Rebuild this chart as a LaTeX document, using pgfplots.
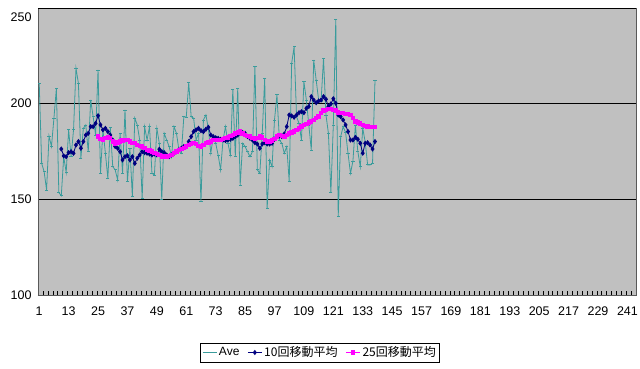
\documentclass[border=0pt]{standalone}
\usepackage{pgfplots}
\pgfplotsset{compat=1.18}
\usepackage{fontspec}
\setmainfont{Liberation Sans}
\newfontfamily\cjk{Noto Sans CJK JP}
\definecolor{avec}{HTML}{3A9C9C}
\definecolor{ma10}{HTML}{000080}
\definecolor{ma25}{HTML}{FF00FF}
\definecolor{plotbg}{HTML}{C0C0C0}
\begin{document}
\begin{tikzpicture}[x=1pt,y=1pt]
\useasboundingbox (0,0) rectangle (640,369);
\begin{axis}[at={(38pt,74pt)}, anchor=south west, scale only axis,
  width=598pt, height=287pt,
  xmin=0.5, xmax=244.5, ymin=100, ymax=250,
  axis background/.style={fill=plotbg},
  axis line style={draw=gray!70!black},
  ytick={100,150,200}, ymajorgrids,
  extra y ticks={250},
  extra y tick style={yticklabel style={anchor=north east, yshift=-1pt}},
  major grid style={black, line width=0.6pt},
  xtick={1,13,...,241},
  minor xtick={0.5,2.5,...,244.5},
  major tick length=0pt, minor tick length=4pt,
  tick align=inside, xtick pos=bottom, ytick pos=left,
  minor tick style={black, line width=0.4pt},
  /pgf/number format/assume math mode=true,
  ticklabel style={font=\fontsize{12.5}{14}\selectfont},
  xticklabel style={yshift=-8pt},
  yticklabel style={xshift=-3pt},
  legend style={at={(0.4716,-0.2003)}, anchor=center, draw=black, fill=white,
    legend columns=3, font=\fontsize{12}{14}\selectfont, inner sep=1.5pt,
    /tikz/every even column/.append style={column sep=6pt}},
  legend image code/.code={\draw[#1] (0pt,0pt) -- (14pt,0pt); \draw[#1, only marks] plot coordinates {(7pt,0pt)};},
]
\addplot[color=avec, line width=0.8pt, mark=-, mark size=1.6pt] coordinates {
(1,210.6)(2,168.8)(3,164.5)(4,154.9)(5,183.1)(6,177.6)(7,192.4)(8,208.0)(9,153.5)(10,151.9)
(11,172.3)(12,164.0)(13,186.3)(14,172.3)(15,186.3)(16,218.5)(17,210.6)(18,171.5)(19,187.1)(20,188.9)
(21,174.9)(22,201.9)(23,193.2)(24,183.6)(25,217.6)(26,163.6)(27,186.3)(28,174.1)(29,161.0)(30,187.5)
(31,167.1)(32,165.4)(33,160.1)(34,184.5)(35,163.6)(36,196.7)(37,159.3)(38,176.7)(39,151.4)(40,192.4)
(41,188.9)(42,181.0)(43,150.5)(44,188.0)(45,181.0)(46,188.0)(47,163.6)(48,162.7)(49,187.1)(50,179.3)
(51,150.0)(52,184.5)(53,181.0)(54,177.6)(55,172.3)(56,188.0)(57,184.5)(58,175.8)(59,174.1)(60,193.2)
(61,192.9)(62,211.0)(63,193.2)(64,192.4)(65,181.0)(66,184.5)(67,148.8)(68,191.5)(69,194.1)(70,187.1)
(71,174.1)(72,182.8)(73,179.3)(74,173.2)(75,165.4)(76,181.0)(77,188.0)(78,179.3)(79,173.2)(80,207.5)
(81,172.3)(82,208.0)(83,157.5)(84,179.3)(85,177.6)(86,174.9)(87,172.3)(88,174.9)(89,219.4)(90,165.4)
(91,163.6)(92,184.5)(93,213.3)(94,145.3)(95,170.6)(96,167.1)(97,191.5)(98,204.6)(99,181.0)(100,179.3)
(101,174.1)(102,177.6)(103,159.3)(104,221.1)(105,229.8)(106,193.2)(107,189.7)(108,181.0)(109,211.5)(110,201.9)
(111,188.9)(112,175.8)(113,222.8)(114,212.4)(115,201.9)(116,201.1)(117,223.7)(118,194.1)(119,184.5)(120,153.5)
(121,188.9)(122,243.8)(123,141.0)(124,182.8)(125,188.0)(126,185.0)(127,174.0)(128,163.6)(129,170.0)(130,188.9)
(131,175.0)(132,167.0)(133,187.2)(134,180.0)(135,168.0)(136,168.0)(137,169.0)(138,212.0)
};
\addlegendentry{Ave}
\addplot[color=ma10, line width=0.8pt, mark=diamond*, mark size=2pt] coordinates {
(10,176.3)(11,172.7)(12,172.3)(13,174.4)(14,174.9)(15,174.1)(16,178.4)(17,180.2)(18,176.7)(19,180.2)
(20,183.6)(21,184.5)(22,188.0)(23,188.0)(24,189.7)(25,193.7)(26,188.9)(27,186.3)(28,187.1)(29,185.4)
(30,183.6)(31,181.0)(32,177.6)(33,176.7)(34,174.9)(35,170.6)(36,172.3)(37,172.8)(38,170.6)(39,172.3)
(40,168.8)(41,171.5)(42,173.2)(43,174.9)(44,174.4)(45,174.1)(46,173.7)(47,173.2)(48,173.7)(49,173.2)
(50,176.2)(51,174.9)(52,174.4)(53,173.2)(54,172.3)(55,173.2)(56,174.1)(57,174.9)(58,175.8)(59,176.7)
(60,177.6)(61,177.6)(62,180.2)(63,182.8)(64,185.4)(65,186.3)(66,187.1)(67,185.9)(68,185.4)(69,186.6)
(70,187.7)(71,183.6)(72,182.8)(73,182.2)(74,181.9)(75,181.4)(76,181.0)(77,180.7)(78,181.0)(79,181.4)
(80,181.9)(81,182.8)(82,183.6)(83,184.5)(84,184.9)(85,184.5)(86,182.8)(87,181.9)(88,181.0)(89,179.6)
(90,178.9)(91,176.7)(92,178.9)(93,179.6)(94,178.9)(95,178.9)(96,179.3)(97,181.4)(98,182.8)(99,183.1)
(100,182.8)(101,184.2)(102,188.0)(103,194.1)(104,193.6)(105,192.9)(106,194.1)(107,195.3)(108,195.8)(109,195.3)
(110,197.6)(111,198.5)(112,203.7)(113,201.9)(114,200.5)(115,201.4)(116,201.9)(117,203.7)(118,202.3)(119,198.5)
(120,199.9)(121,202.6)(122,200.2)(123,194.1)(124,193.2)(125,191.5)(126,188.9)(127,185.4)(128,181.0)(129,181.0)
(130,182.4)(131,181.4)(132,179.3)(133,174.1)(134,179.3)(135,179.6)(136,178.4)(137,176.3)(138,180.2)
};
\addlegendentry{\cjk 10回移動平均}
\addplot[color=ma25, line width=1pt, mark=square*, mark size=1.7pt] coordinates {
(25,182.8)(26,181.4)(27,181.0)(28,181.9)(29,182.4)(30,181.9)(31,180.2)(32,178.9)(33,179.6)(34,180.2)
(35,180.7)(36,181.0)(37,181.0)(38,180.2)(39,179.3)(40,179.3)(41,178.4)(42,177.9)(43,177.6)(44,176.7)
(45,175.8)(46,175.5)(47,174.9)(48,174.1)(49,173.7)(50,173.2)(51,172.3)(52,172.0)(53,172.3)(54,172.7)
(55,173.2)(56,174.1)(57,174.9)(58,175.8)(59,176.2)(60,176.7)(61,177.6)(62,178.4)(63,178.9)(64,179.3)
(65,178.9)(66,177.9)(67,177.6)(68,178.4)(69,179.3)(70,179.6)(71,180.2)(72,181.0)(73,181.0)(74,181.0)
(75,181.0)(76,181.4)(77,181.9)(78,182.4)(79,183.1)(80,183.6)(81,184.5)(82,184.9)(83,185.4)(84,184.5)
(85,183.6)(86,183.1)(87,182.8)(88,181.9)(89,181.4)(90,181.9)(91,182.8)(92,182.4)(93,181.0)(94,180.2)
(95,180.2)(96,180.7)(97,181.4)(98,182.8)(99,183.6)(100,183.1)(101,182.8)(102,183.6)(103,184.5)(104,184.9)
(105,185.4)(106,186.3)(107,187.1)(108,188.0)(109,188.9)(110,189.4)(111,190.1)(112,190.6)(113,191.5)(114,192.4)
(115,193.2)(116,195.0)(117,196.4)(118,196.7)(119,197.1)(120,197.1)(121,196.7)(122,196.4)(123,195.3)(124,195.0)
(125,195.0)(126,194.6)(127,194.6)(128,194.1)(129,192.4)(130,190.6)(131,190.1)(132,189.7)(133,188.9)(134,188.4)
(135,188.0)(136,187.7)(137,187.7)(138,187.7)
};
\addlegendentry{\cjk 25回移動平均}
\end{axis}
\end{tikzpicture}
\end{document}
